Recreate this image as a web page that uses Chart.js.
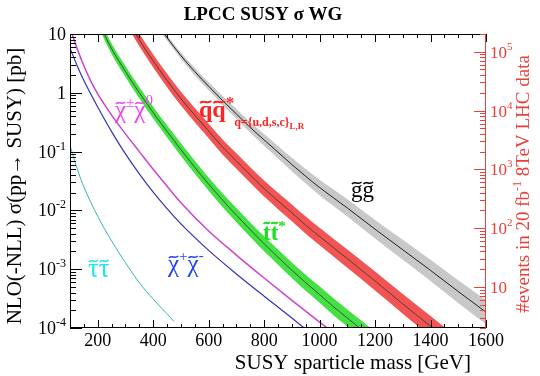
<!DOCTYPE html>
<html>
<head>
<meta charset="utf-8">
<script src="https://cdn.jsdelivr.net/npm/chart.js@4.4.1/dist/chart.umd.min.js"></script>
<style>
  html, body { margin: 0; padding: 0; background: #fff; }
  canvas { display: block; }
</style>
</head>
<body>
<canvas id="xsec" width="540" height="376"></canvas>
<script>
// NLO(+NLL) cross sections in pb
const gluinoMass = [400, 440, 500, 550, 600, 650, 700, 750, 800, 850, 900, 950, 1000, 1100, 1200, 1300, 1400, 1500, 1600];
const gluinoXsec = [17.8, 10, 4.27, 2.29, 1.29, 0.741, 0.437, 0.257, 0.158, 0.0977, 0.0603, 0.038, 0.0245, 0.011, 0.00479, 0.00214, 0.000955, 0.000417, 0.000186];
const gluinoUnc = [0.1, 0.11, 0.13, 0.15, 0.17, 0.19, 0.21, 0.23, 0.26, 0.28, 0.3, 0.33, 0.35, 0.4, 0.44, 0.48, 0.52, 0.56, 0.6];

const squarkMass = [300, 350, 400, 450, 500, 550, 600, 650, 700, 750, 800, 850, 900, 950, 1000, 1100, 1200, 1300, 1400, 1500];
const squarkXsec = [20, 7.9, 3.47, 1.62, 0.794, 0.417, 0.224, 0.12, 0.0692, 0.04, 0.0235, 0.0145, 0.0091, 0.0056, 0.0036, 0.00151, 0.00063, 0.000257, 0.000107, 0.0000447];
const squarkUnc = [0.28, 0.28, 0.29, 0.3, 0.31, 0.32, 0.33, 0.34, 0.35, 0.36, 0.37, 0.38, 0.39, 0.4, 0.41, 0.43, 0.45, 0.47, 0.49, 0.5];

const stopMass = [200, 250, 300, 350, 400, 450, 500, 550, 600, 650, 700, 750, 800, 850, 900, 950, 1000, 1050, 1100, 1150, 1200];
const stopXsec = [17, 5.6, 2.3, 1.0, 0.46, 0.22, 0.108, 0.054, 0.028, 0.015, 0.0083, 0.0047, 0.0027, 0.0016, 0.00096, 0.00059, 0.00037, 0.00023, 0.000148, 0.000095, 0.000061];
const stopUnc = [0.22, 0.23, 0.24, 0.25, 0.26, 0.27, 0.28, 0.29, 0.3, 0.31, 0.32, 0.33, 0.34, 0.35, 0.36, 0.37, 0.38, 0.39, 0.4, 0.41, 0.42];

const c1n2Mass = [100, 125, 150, 175, 200, 250, 300, 350, 400, 450, 500, 600, 700, 800, 900, 1000, 1050];
const c1n2Xsec = [12.6, 5.75, 2.88, 1.58, 0.955, 0.417, 0.2, 0.1, 0.0501, 0.0257, 0.0135, 0.00447, 0.00174, 0.000708, 0.000295, 0.000126, 0.0000832];

const c1c1Mass = [100, 125, 150, 200, 250, 300, 350, 400, 450, 500, 600, 700, 800, 900, 950];
const c1c1Xsec = [5.75, 2.95, 1.62, 0.575, 0.219, 0.0912, 0.0417, 0.0204, 0.0107, 0.00589, 0.00209, 0.00083, 0.000347, 0.000148, 0.0000955];

const stauMass = [100, 125, 150, 200, 250, 300, 350, 400, 450, 475];
const stauXsec = [0.126, 0.0525, 0.0251, 0.00794, 0.00302, 0.00129, 0.000589, 0.000309, 0.000174, 0.000129];

// axes
const xTicks = [200, 400, 600, 800, 1000, 1200, 1400, 1600];
const yTicks = [10, 1, 0.1, 0.01, 0.001, 0.0001];
const yTickBase = ['10', '1', '10', '10', '10', '10'];
const yTickExp = ['', '', '-1', '-2', '-3', '-4'];
const eventTicks = [10, 100, 1000, 10000, 100000];
const eventTickExp = ['', '2', '3', '4', '5'];
const lumi = 20000; // 20 fb^-1 in pb^-1

const SERIF = '"Liberation Serif", "DejaVu Serif", serif';
const RED = '#e8413c';

function band(mass, xsec, unc, color) {
  const up = mass.map((m, i) => ({ x: m, y: xsec[i] * (1 + unc[i]) }));
  const lo = mass.map((m, i) => ({ x: m, y: xsec[i] / (1 + unc[i]) }));
  return [
    { data: up, fill: '+1', backgroundColor: color, borderColor: 'rgba(0,0,0,0)', borderWidth: 0, pointRadius: 0, order: 3 },
    { data: lo, fill: false, borderColor: 'rgba(0,0,0,0)', borderWidth: 0, pointRadius: 0, order: 3 }
  ];
}

function curve(mass, xsec, color, width) {
  return {
    data: mass.map((m, i) => ({ x: m, y: xsec[i] })),
    borderColor: color, borderWidth: width, pointRadius: 0, fill: false, order: 1
  };
}

// draw a run of text pieces: [text, font, dy, tildeHeight]
function rich(ctx, parts, x, y, align) {
  let w = 0;
  parts.forEach(p => { ctx.font = p[1]; w += ctx.measureText(p[0]).width; });
  let cx = align === 'right' ? x - w : align === 'center' ? x - w / 2 : x;
  ctx.textAlign = 'left';
  parts.forEach(p => {
    ctx.font = p[1];
    const pw = ctx.measureText(p[0]).width;
    const py = y + (p[2] || 0);
    ctx.fillText(p[0], cx, py);
    if (p[3]) {
      const yT = py - p[3], x0 = cx + pw * 0.08, x1 = cx + pw * 0.92, amp = 1.4;
      ctx.strokeStyle = ctx.fillStyle;
      ctx.lineWidth = p[1].startsWith('bold') ? 1.9 : 1.5;
      ctx.beginPath();
      ctx.moveTo(x0, yT + amp * 0.7);
      ctx.bezierCurveTo(x0 + (x1 - x0) * 0.35, yT - amp * 1.8, x0 + (x1 - x0) * 0.65, yT + amp * 1.8, x1, yT - amp * 0.7);
      ctx.stroke();
    }
    cx += pw;
  });
}

const rootFrame = {
  id: 'rootFrame',
  afterDatasetsDraw(chart) {
    const { ctx, chartArea: a, scales } = chart;
    const x = scales.x, y = scales.y, ev = scales.events;
    ctx.save();
    ctx.lineWidth = 1;
    ctx.textBaseline = 'alphabetic';

    // black ticks: x (bottom, top) and left y
    ctx.strokeStyle = '#000';
    ctx.beginPath();
    for (let m = 100; m <= 1600; m += 50) {
      const px = Math.round(x.getPixelForValue(m)) + 0.5;
      const len = m % 200 === 0 ? 8 : 4;
      ctx.moveTo(px, a.bottom); ctx.lineTo(px, a.bottom - len);
      ctx.moveTo(px, a.top); ctx.lineTo(px, a.top + len);
    }
    for (let e = -4; e <= 1; e++) {
      for (let k = 1; k <= 9; k++) {
        const v = k * Math.pow(10, e);
        if (v < 0.99e-4 || v > 10.01) continue;
        const py = Math.round(y.getPixelForValue(v)) + 0.5;
        ctx.moveTo(a.left, py); ctx.lineTo(a.left + (k === 1 ? 12 : 6), py);
      }
    }
    ctx.moveTo(a.left + 0.5, a.top); ctx.lineTo(a.left + 0.5, a.bottom);
    ctx.moveTo(a.left, a.top + 0.5); ctx.lineTo(a.right, a.top + 0.5);
    ctx.moveTo(a.left, a.bottom - 0.5); ctx.lineTo(a.right, a.bottom - 0.5);
    ctx.stroke();

    // red event axis on the right
    ctx.strokeStyle = RED;
    ctx.beginPath();
    for (let e = 0; e <= 5; e++) {
      for (let k = 1; k <= 9; k++) {
        const v = k * Math.pow(10, e);
        if (v < 1.99 || v > 2.01e5) continue;
        const py = Math.round(ev.getPixelForValue(v)) + 0.5;
        ctx.moveTo(a.right, py); ctx.lineTo(a.right - (k === 1 ? 12 : 6), py);
      }
    }
    ctx.moveTo(a.right - 0.5, a.top); ctx.lineTo(a.right - 0.5, a.bottom);
    ctx.stroke();

    // tick labels
    ctx.fillStyle = '#000';
    xTicks.forEach(m => {
      rich(ctx, [[String(m), '18px ' + SERIF]], x.getPixelForValue(m), a.bottom + 18, 'center');
    });
    yTicks.forEach((v, i) => {
      const py = y.getPixelForValue(v) + 6;
      const parts = [[yTickBase[i], '18px ' + SERIF]];
      if (yTickExp[i]) parts.push([yTickExp[i], '12px ' + SERIF, -8]);
      rich(ctx, parts, a.left - 4, py, 'right');
    });
    ctx.fillStyle = RED;
    eventTicks.forEach((v, i) => {
      const py = ev.getPixelForValue(v) + 6;
      const parts = [['10', '17px ' + SERIF]];
      if (eventTickExp[i]) parts.push([eventTickExp[i], '11px ' + SERIF, -8]);
      rich(ctx, parts, a.right + 4, py, 'left');
    });

    // titles
    ctx.fillStyle = '#000';
    rich(ctx, [['LPCC SUSY \u03c3 WG', 'bold 19px ' + SERIF]], 263, 20, 'center');
    rich(ctx, [['SUSY sparticle mass [GeV]', '21px ' + SERIF]], 471, 369, 'right');

    ctx.save();
    ctx.translate(21, 186);
    ctx.rotate(-Math.PI / 2);
    rich(ctx, [['NLO(-NLL) \u03c3(pp\u2192 SUSY) [pb]', '21px ' + SERIF]], 0, 0, 'center');
    ctx.restore();

    ctx.save();
    ctx.translate(529, 184);
    ctx.rotate(-Math.PI / 2);
    ctx.fillStyle = RED;
    rich(ctx, [
      ['#events in 20 fb', '19px ' + SERIF],
      ['-1', '12px ' + SERIF, -8],
      [' 8TeV LHC data', '19px ' + SERIF]
    ], 0, 0, 'center');
    ctx.restore();

    // curve labels (tilde drawn over each sparticle symbol)
    ctx.fillStyle = '#ee44ee';
    rich(ctx, [['\u03c7', '25px ' + SERIF, 0, 15], ['\u00b1', '15px ' + SERIF, -11],
      ['\u03c7', '25px ' + SERIF, 0, 15], ['0', '15px ' + SERIF, -13]], 115, 118, 'left');
    ctx.fillStyle = '#ff2222';
    rich(ctx, [['q', 'bold 24px ' + SERIF, 0, 15], ['q', 'bold 24px ' + SERIF, 0, 15], ['*', 'bold 17px ' + SERIF, -9],
      ['q={u,d,s,c}', 'bold 12px ' + SERIF, 9], ['L,R', 'bold 9px ' + SERIF, 12]], 199, 117, 'left');
    ctx.fillStyle = '#000';
    rich(ctx, [['g', '23px ' + SERIF, 0, 14], ['g', '23px ' + SERIF, 0, 14]], 351, 197, 'left');
    ctx.fillStyle = '#22dd22';
    rich(ctx, [['t', 'bold 23px ' + SERIF, 0, 17], ['t', 'bold 23px ' + SERIF, 0, 17], ['*', 'bold 15px ' + SERIF, -9]], 263, 240, 'left');
    ctx.fillStyle = '#22e5ee';
    rich(ctx, [['\u03c4', '27px ' + SERIF, 0, 16], ['\u03c4', '27px ' + SERIF, 0, 16]], 88, 277, 'left');
    ctx.fillStyle = '#2244ee';
    rich(ctx, [['\u03c7', '25px ' + SERIF, 0, 15], ['+', '15px ' + SERIF, -11],
      ['\u03c7', '25px ' + SERIF, 0, 15], ['-', '15px ' + SERIF, -12]], 168, 272, 'left');
    ctx.restore();
  }
};

const datasets = [
  ...band(gluinoMass, gluinoXsec, gluinoUnc, '#c8c8c8'),
  ...band(squarkMass, squarkXsec, squarkUnc, '#f25454'),
  ...band(stopMass, stopXsec, stopUnc, '#44e044'),
  curve(gluinoMass, gluinoXsec, '#222', 1),
  curve(squarkMass, squarkXsec, '#333', 0.8),
  curve(stopMass, stopXsec, '#333', 0.8),
  curve(c1n2Mass, c1n2Xsec, '#cc44cc', 1.5),
  curve(c1c1Mass, c1c1Xsec, '#3333bb', 1.2),
  curve(stauMass, stauXsec, '#33b5b5', 1)
];

new Chart(document.getElementById('xsec'), {
  type: 'line',
  data: { datasets },
  options: {
    responsive: false,
    animation: false,
    devicePixelRatio: 1,
    events: [],
    layout: { padding: { left: 70, right: 54, top: 34, bottom: 48 } },
    elements: { line: { cubicInterpolationMode: 'monotone' } },
    plugins: { legend: { display: false }, tooltip: { enabled: false } },
    scales: {
      x: { type: 'linear', min: 100, max: 1600, display: false },
      y: { type: 'logarithmic', min: 1e-4, max: 10, display: false },
      events: { type: 'logarithmic', axis: 'y', position: 'right', min: 1e-4 * lumi, max: 10 * lumi, display: false }
    }
  },
  plugins: [rootFrame]
});
</script>
</body>
</html>
